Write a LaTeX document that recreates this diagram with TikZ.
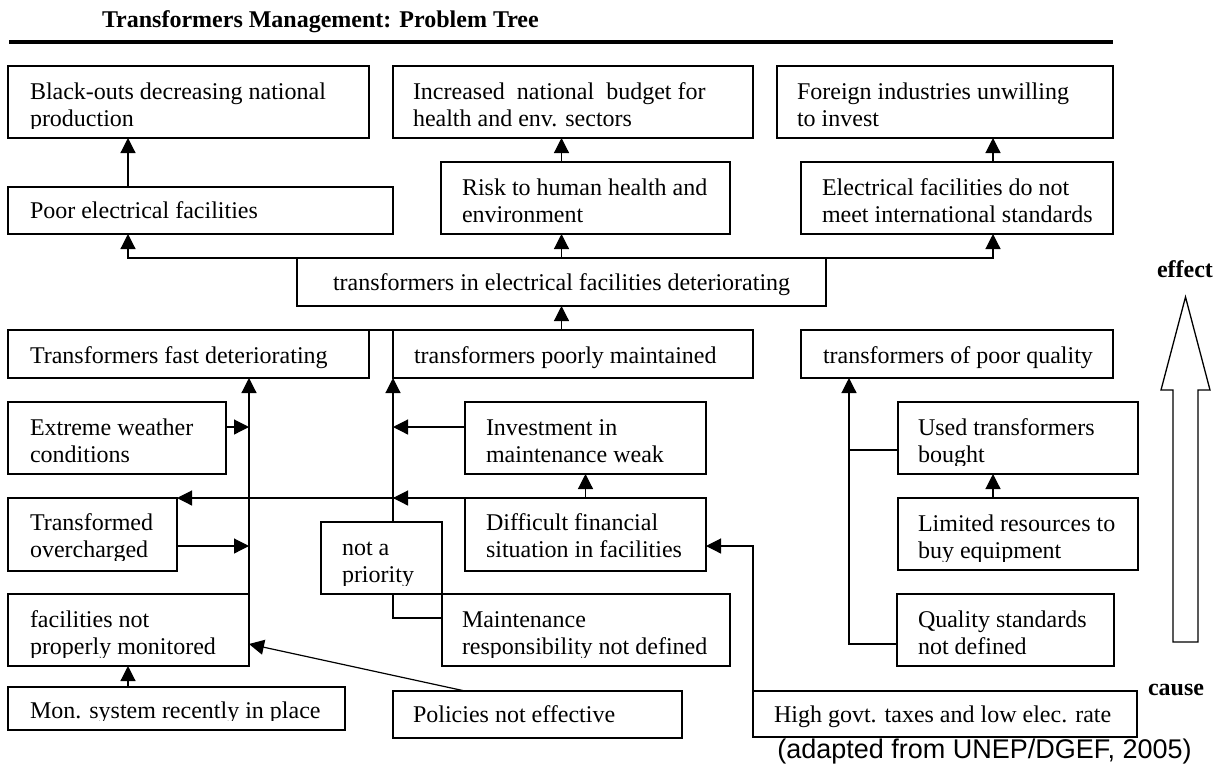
\documentclass[tikz,border=0pt]{standalone}
\usepackage{fontspec}
\setmainfont{Liberation Serif}
\newfontfamily\arialfont{Liberation Sans}
\usetikzlibrary{arrows.meta,fit}

\tikzset{
  box/.style={draw, line width=0.65pt, inner sep=0pt, outer sep=0pt},
  txt/.style={inner sep=0pt, outer sep=0pt, anchor=base west, font=\fontsize{12}{13.8}\selectfont},
  boldtxt/.style={inner sep=0pt, outer sep=0pt, anchor=base west, font=\bfseries\fontsize{12}{13.8}\selectfont},
  arr/.style={line width=0.6pt, -{Triangle[length=7.5pt,width=7.5pt]}},
  link/.style={line width=0.6pt},
}
% two text lines, the first one carrying the baseline
\newcommand\two[2]{\vtop{\hbox{#1}\hbox{#2}}}
% framed box: name, corners, text origin, text
\newcommand\pbox[8]{%
  \node[box, fit={(#2,#3)(#4,#5)}] (#1) {};
  \node[txt] (#1-t) at (#6,#7) {#8};}
% the same, with the text cut off at a given height
\newcommand\pboxc[9]{%
  \node[box, fit={(#2,#3)(#4,#5)}] (#1) {};
  \begin{scope}
    \clip (#2,#3) rectangle (#4,#9);
    \node[txt] (#1-t) at (#6,#7) {#8};
  \end{scope}}

\begin{document}
\begin{tikzpicture}[x=0.5pt,y=-0.5pt]
\useasboundingbox (0,0) rectangle (1220,767);

% heading
\node[boldtxt] (title) at (102,27) {Transformers Management: Problem Tree};
\draw[line width=1.65pt] (9,42) -- (1113,42);

% effects
\pboxc{black}{8}{66}{369}{138}{30}{99}{\two{Black-outs decreasing national}{production}}{128.6}
\pbox{budget}{393}{66}{753}{138}{413}{99}{\two{Increased\ \ national\ \ budget for}{health and env. sectors}}
\pbox{foreign}{777}{66}{1113}{138}{797}{99}{\two{Foreign industries unwilling}{to invest}}
\pbox{poor}{8}{187}{393}{234}{30}{218}{Poor electrical facilities}
\pbox{risk}{441}{162}{730}{234}{462}{195}{\two{Risk to human health and}{environment}}
\pbox{elec}{801}{162}{1113}{234}{822}{195}{\two{Electrical facilities do not}{meet international standards}}

% core problem
\pbox{central}{297}{258}{826}{306}{333}{290}{transformers in electrical facilities deteriorating}

% causes
\pbox{fast}{8}{330}{369}{378}{30}{363}{Transformers fast deteriorating}
\pbox{maint}{393}{330}{753}{378}{414}{363}{transformers poorly maintained}
\pbox{pq}{801}{330}{1113}{378}{823}{363}{transformers of poor quality}
\pbox{weather}{8}{402}{226}{474}{30}{435}{\two{Extreme weather}{conditions}}
\pbox{inv}{465}{402}{706}{474}{486}{435}{\two{Investment in}{maintenance weak}}
\pboxc{used}{898}{402}{1138}{474}{918}{435}{\two{Used transformers}{bought}}{465}
\pboxc{over}{8}{498}{177}{571}{30}{530}{\two{Transformed}{overcharged}}{560}
\pbox{diff}{465}{498}{706}{571}{486}{530}{\two{Difficult financial}{situation in facilities}}
\pboxc{lim}{898}{498}{1138}{570}{918}{531}{\two{Limited resources to}{buy equipment}}{561}
\pboxc{notp}{321}{522}{442}{594}{342}{555}{\two{not a}{priority}}{585}
\pboxc{facil}{8}{594}{249}{666}{30}{627}{\two{facilities not}{properly monitored}}{657}
\pboxc{mresp}{442}{594}{730}{666}{462}{627}{\two{Maintenance}{responsibility not defined}}{657}
\pbox{qual}{897}{594}{1114}{666}{918}{627}{\two{Quality standards}{not defined}}
\pboxc{mon}{8}{687}{345}{730}{30}{718}{Mon. system recently in place}{720.5}
\pbox{pol}{393}{691}{682}{738}{413}{722}{Policies not effective}
\pbox{taxes}{753}{691}{1137}{737}{774}{722}{High govt. taxes and low elec. rate}

% guide columns and rows for the connectors
\coordinate (colA) at (128,0);
\coordinate (colE) at (993,0);
\coordinate (colQ) at (849,0);
\coordinate (r1) at (0,427);
\coordinate (r2) at (0,546);
\coordinate (r3) at (0,618);
\coordinate (r4) at (0,644);
\coordinate (r5) at (0,450);

% upper tree
\draw[arr] (poor.north -| colA) -- (black.south -| colA);
\draw[arr] (central.north) -| (poor.south -| colA);
\draw[arr] (central.north) -| (elec.south -| colE);
\draw[arr] (central.north) -- (central.north |- risk.south);
\draw[arr] (risk.north -| central.north) -- (budget.south -| central.north);
\draw[arr] (elec.north -| colE) -- (foreign.south -| colE);

% lower tree
\draw[arr] (central.south |- maint.north) -- (central.south);
\draw[link] (fast.north east) -- (maint.north west);
\draw[arr] (facil.north east) -- (facil.north east |- fast.south);
\draw[arr] (weather.east |- r1) -- (facil.east |- r1);
\draw[arr] (over.east |- r2) -- (facil.east |- r2);
\draw[arr] (diff.north west) -- (over.north east);
\draw[arr] (diff.north west) -- (maint.south west |- diff.north);
\draw[arr] (inv.west |- r1) -- (maint.south west |- r1);
\draw[arr] (maint.south west |- notp.north) -- (maint.south west);
\draw[link] (maint.south west |- notp.south) |- (mresp.west |- r3);
\draw[arr] (diff.north) -- (inv.south);
\draw[arr] (taxes.south west) |- (diff.east |- r2);
\draw[arr] (pol.north -| diff.west) -- (facil.east |- r4);
\draw[arr] (mon.north -| colA) -- (facil.south -| colA);
\draw[arr] (qual.west |- r4) -| (pq.south -| colQ);
\draw[link] (used.west |- r5) -- (colQ |- r5);
\draw[arr] (lim.north -| colE) -- (used.south -| colE);

% cause-to-effect direction
\draw[line width=0.65pt] (1185.5,297) -- (1210,390) -- (1198,390) -- (1198,642)
  -- (1173,642) -- (1173,390) -- (1161,390) -- cycle;
\node[boldtxt] (effect) at (1157,277) {effect};
\node[boldtxt] (cause) at (1148,695) {cause};

% source
\node[inner sep=0pt, anchor=base west, font=\arialfont\fontsize{13.5}{16}\selectfont]
  (src) at (777,758) {(adapted from UNEP/DGEF, 2005)};
\end{tikzpicture}
\end{document}
